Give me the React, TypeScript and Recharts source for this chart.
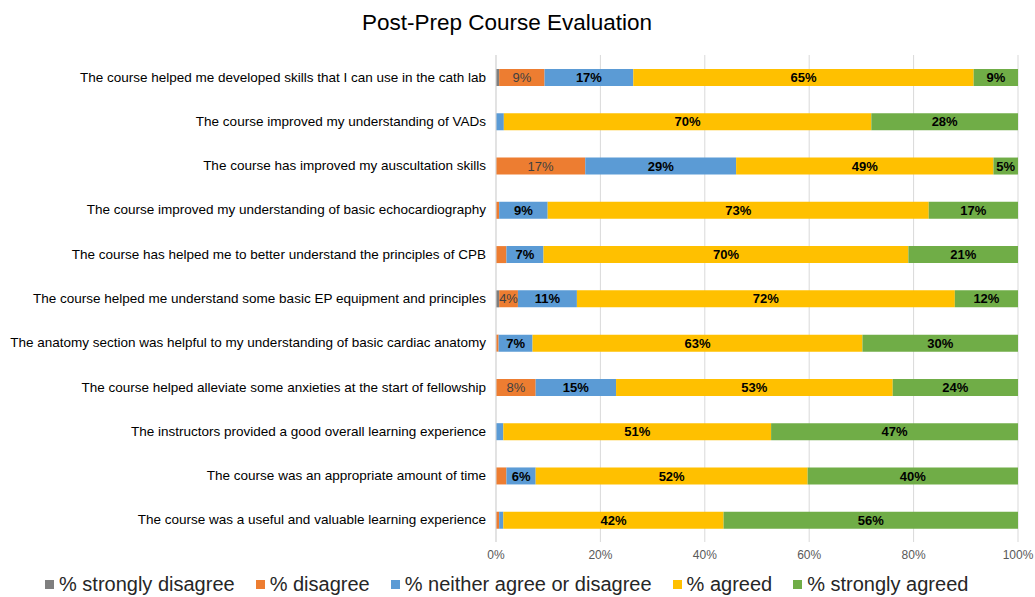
import { BarChart, Bar, XAxis, YAxis, CartesianGrid, Legend, LabelList } from "recharts";

// ── Data ────────────────────────────────────────────────────────────────────

const questions = [
  "The course helped me developed skills that I can use in the cath lab",
  "The course improved my understanding of VADs",
  "The course has improved my auscultation skills",
  "The course improved my understanding of basic echocardiography",
  "The course has helped me to better understand the principles of CPB",
  "The course helped me understand some basic EP equipment and principles",
  "The anatomy section was helpful to my understanding of basic cardiac anatomy",
  "The course helped alleviate some anxieties at the start of fellowship",
  "The instructors provided a good overall learning experience",
  "The course was an appropriate amount of time",
  "The course was a useful and valuable learning experience",
];

const stronglyDisagree = [0.6, 0, 0, 0, 0, 0.6, 0, 0, 0, 0, 0];
const disagree = [8.7, 0, 17.1, 0.6, 2.0, 3.6, 0.5, 7.6, 0, 2.0, 0.6];
const neither = [17.0, 1.5, 28.9, 9.3, 7.1, 11.3, 6.5, 15.4, 1.4, 5.6, 0.8];
const agreed = [65.2, 70.4, 49.3, 73.0, 69.9, 72.4, 63.2, 53.0, 51.3, 52.1, 42.2];
const stronglyAgreed = [8.5, 28.1, 4.7, 17.1, 21.0, 12.1, 29.8, 24.0, 47.3, 40.3, 56.4];

const xTicks = [0, 20, 40, 60, 80, 100];

const series = [
  { key: "sd", name: "% strongly disagree", color: "#7F7F7F", labelColor: "#404040", bold: false },
  { key: "d", name: "% disagree", color: "#ED7D31", labelColor: "#404040", bold: false },
  { key: "n", name: "% neither agree or disagree", color: "#5B9BD5", labelColor: "#000", bold: true },
  { key: "a", name: "% agreed", color: "#FFC000", labelColor: "#000", bold: true },
  { key: "sa", name: "% strongly agreed", color: "#70AD47", labelColor: "#000", bold: true },
];

const data = questions.map((name, i) => ({
  name,
  sd: stronglyDisagree[i],
  d: disagree[i],
  n: neither[i],
  a: agreed[i],
  sa: stronglyAgreed[i],
}));

const FONT = "'Liberation Sans', Arial, sans-serif";

// ── Axis tick (single line, no wrapping) ────────────────────────────────────

interface TickProps {
  x?: number;
  y?: number;
  payload?: { value: string };
}

function QuestionTick({ x = 0, y = 0, payload }: TickProps) {
  return (
    <text x={x} y={y} textAnchor="end" dominantBaseline="central" fill="#000" fontSize={13.5} fontFamily={FONT}>
      {payload?.value}
    </text>
  );
}

// ── Legend ──────────────────────────────────────────────────────────────────

function LegendContent() {
  return (
    <div style={{ display: "flex", alignItems: "center", paddingLeft: 45, height: 25, fontFamily: FONT }}>
      {series.map((s) => (
        <div key={s.key} style={{ display: "flex", alignItems: "center", marginRight: 21 }}>
          <span style={{ width: 9, height: 9, background: s.color, display: "inline-block", marginRight: 5 }} />
          <span style={{ fontSize: 20, color: "#262626", whiteSpace: "nowrap" }}>{s.name}</span>
        </div>
      ))}
    </div>
  );
}

// ── Component ───────────────────────────────────────────────────────────────

export default function App() {
  return (
    <div style={{ position: "absolute", left: 0, top: 0, width: 1035, height: 597, background: "#fff", fontFamily: FONT }}>
      <div
        style={{
          position: "absolute",
          top: 10,
          left: 0,
          width: 1014,
          textAlign: "center",
          fontSize: 22.5,
          color: "#000",
        }}
      >
        Post-Prep Course Evaluation
      </div>
      <BarChart
        width={1035}
        height={597}
        data={data}
        layout="vertical"
        margin={{ top: 55, right: 17, left: 0, bottom: 0 }}
        barSize={17}
      >
        <CartesianGrid horizontal={false} stroke="#d9d9d9" />
        <XAxis
          type="number"
          domain={[0, 100]}
          ticks={xTicks}
          tickFormatter={(v: number) => `${v}%`}
          tick={{ fill: "#595959", fontSize: 12, fontFamily: FONT }}
          axisLine={false}
          tickLine={false}
          height={30}
          interval={0}
        />
        <YAxis
          type="category"
          dataKey="name"
          width={496}
          tick={<QuestionTick />}
          axisLine={{ stroke: "#d9d9d9" }}
          tickLine={false}
          tickMargin={4}
          interval={0}
        />
        <Legend verticalAlign="bottom" height={25} content={() => <LegendContent />} />
        {series.map((s) => (
          <Bar key={s.key} dataKey={s.key} name={s.name} stackId="a" fill={s.color} isAnimationActive={false}>
            <LabelList
              dataKey={s.key}
              position="center"
              fill={s.labelColor}
              fontSize={13}
              fontWeight={s.bold ? "bold" : "normal"}
              fontFamily={FONT}
              formatter={(v: number) => (v >= 3 ? `${Math.round(v)}%` : "")}
            />
          </Bar>
        ))}
      </BarChart>
    </div>
  );
}
